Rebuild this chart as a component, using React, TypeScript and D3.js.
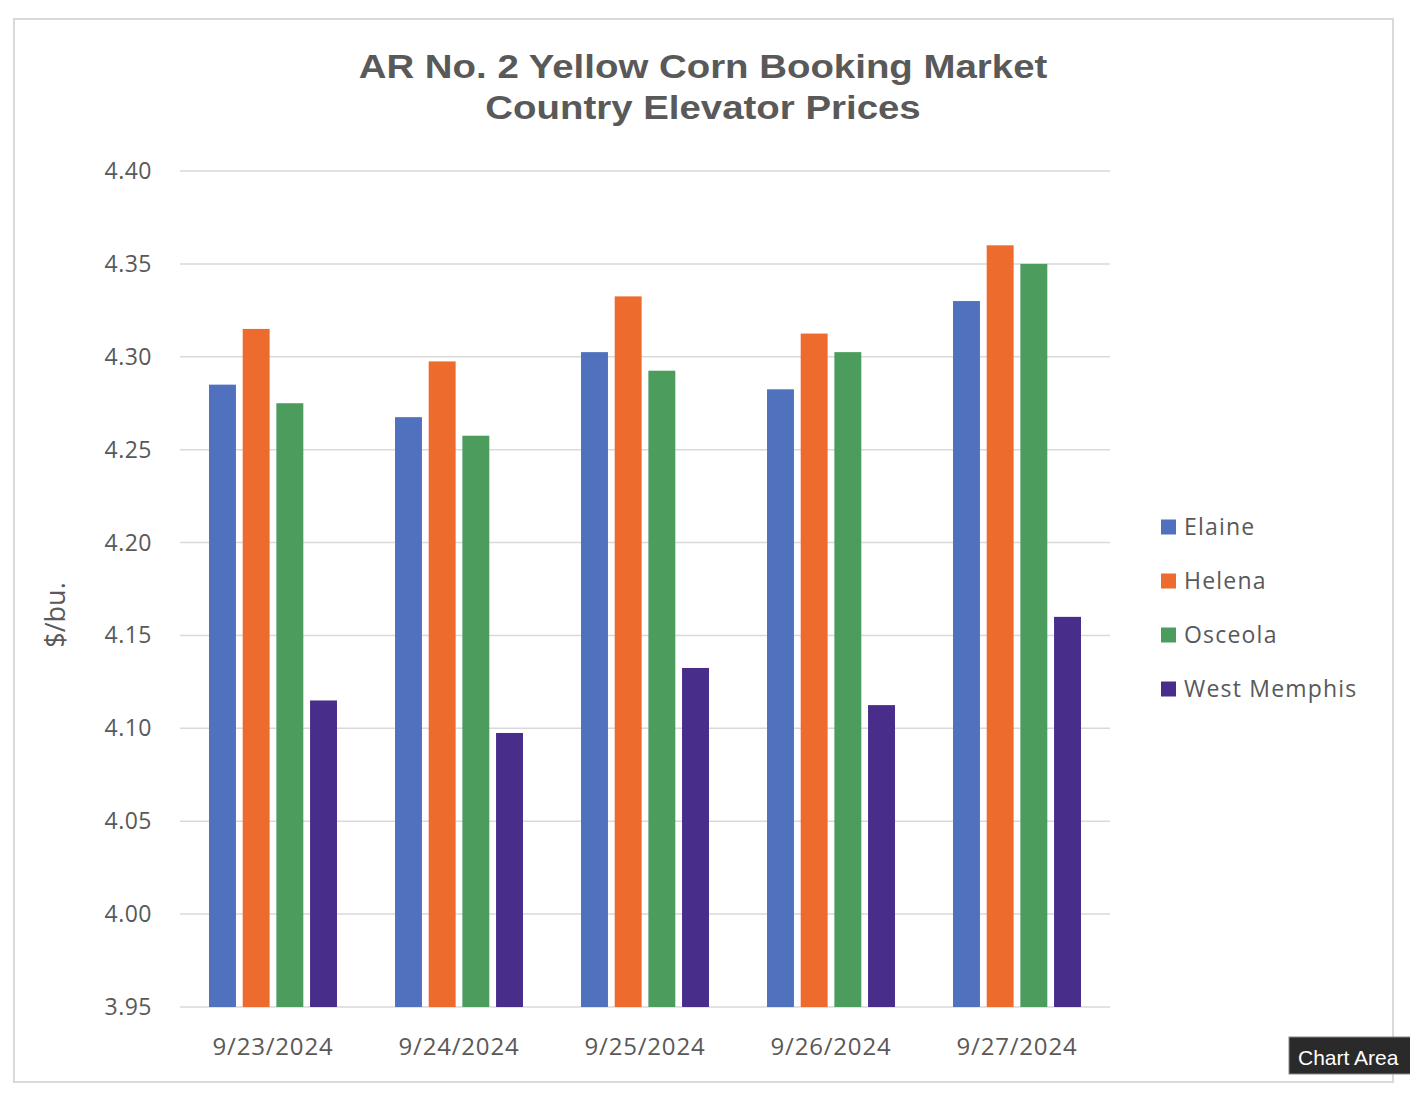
import React from "react";
import * as d3 from "d3";

const dates = ["9/23/2024", "9/24/2024", "9/25/2024", "9/26/2024", "9/27/2024"];
const seriesNames = ["Elaine", "Helena", "Osceola", "West Memphis"];
const elaine = [4.285, 4.2675, 4.3025, 4.2825, 4.33];
const helena = [4.315, 4.2975, 4.3325, 4.3125, 4.36];
const osceola = [4.275, 4.2575, 4.2925, 4.3025, 4.35];
const westMemphis = [4.115, 4.0975, 4.1325, 4.1125, 4.16];
const yTicks = [3.95, 4.0, 4.05, 4.1, 4.15, 4.2, 4.25, 4.3, 4.35, 4.4];
const colors = ["#5072BE", "#EC6B2D", "#4B9C5D", "#482D8B"];

const seriesValues = [elaine, helena, osceola, westMemphis];

export default function App() {
  const W = 1410;
  const H = 1094;
  const plotL = 180;
  const plotR = 1110;
  const plotT = 171;
  const plotB = 1007;

  const x0 = d3.scaleBand<string>().domain(dates).range([plotL, plotR]).padding(0);
  const bw0 = x0.bandwidth();
  const groupW = bw0 * 0.688;
  const x1 = d3
    .scaleBand<string>()
    .domain(seriesNames)
    .range([(bw0 - groupW) / 2, (bw0 + groupW) / 2])
    .paddingInner(0.2)
    .paddingOuter(0);
  const y = d3.scaleLinear().domain([3.95, 4.4]).range([plotB, plotT]);

  const textColor = "#595959";
  const font = "'Open Sans', 'Noto Sans', sans-serif";
  const titleFont = "'Liberation Sans', Arial, sans-serif";

  return (
    <svg
      width={W}
      height={H}
      style={{ position: "absolute", left: 0, top: 0, background: "#fff" }}
    >
      <rect x={0} y={0} width={W} height={H} fill="#fff" />
      <rect x={14} y={19} width={1379} height={1063} fill="#fff" stroke="#d9d9d9" strokeWidth={2} />

      <text
        transform="translate(703,78) scale(1.13,1)"
        textAnchor="middle"
        fontFamily={titleFont}
        fontWeight="bold"
        fontSize={34}
        fill={textColor}
      >
        AR No. 2 Yellow Corn Booking Market
      </text>
      <text
        transform="translate(703,119) scale(1.13,1)"
        textAnchor="middle"
        fontFamily={titleFont}
        fontWeight="bold"
        fontSize={34}
        fill={textColor}
      >
        Country Elevator Prices
      </text>

      {yTicks.map((t) => (
        <g key={t}>
          <line
            x1={plotL}
            x2={plotR}
            y1={y(t)}
            y2={y(t)}
            stroke="#d9d9d9"
            strokeWidth={1.5}
          />
          <text
            x={152}
            y={y(t)}
            dy="0.35em"
            textAnchor="end"
            fontFamily={font}
            fontSize={23}
            letterSpacing={0.5}
            fill={textColor}
          >
            {t.toFixed(2)}
          </text>
        </g>
      ))}

      {dates.map((d, i) => (
        <g key={d} transform={`translate(${x0(d)},0)`}>
          {seriesNames.map((s, j) => {
            const v = seriesValues[j][i];
            return (
              <rect
                key={s}
                x={x1(s)}
                y={y(v)}
                width={x1.bandwidth()}
                height={plotB - y(v)}
                fill={colors[j]}
              />
            );
          })}
          <text
            x={bw0 / 2}
            y={1055}
            textAnchor="middle"
            fontFamily={font}
            fontSize={24}
            letterSpacing={0.8}
            fill={textColor}
          >
            {d}
          </text>
        </g>
      ))}

      <text
        transform={`translate(65, ${615}) rotate(-90)`}
        textAnchor="middle"
        fontFamily={font}
        fontSize={27}
        fill={textColor}
      >
        $/bu.
      </text>

      {seriesNames.map((s, j) => (
        <g key={s} transform={`translate(1161, ${527 + j * 54})`}>
          <rect x={0} y={-7.5} width={15} height={15} fill={colors[j]} />
          <text
            x={23}
            y={0}
            dy="0.36em"
            fontFamily={font}
            fontSize={23}
            letterSpacing={1.2}
            fill={textColor}
          >
            {s}
          </text>
        </g>
      ))}

      <rect x={1289} y={1037} width={130} height={37} fill="#2a2a2a" stroke="#888" strokeWidth={1} />
      <text
        x={1298}
        y={1065}
        fontFamily={titleFont}
        fontSize={21}
        fill="#ffffff"
      >
        Chart Area
      </text>
    </svg>
  );
}
